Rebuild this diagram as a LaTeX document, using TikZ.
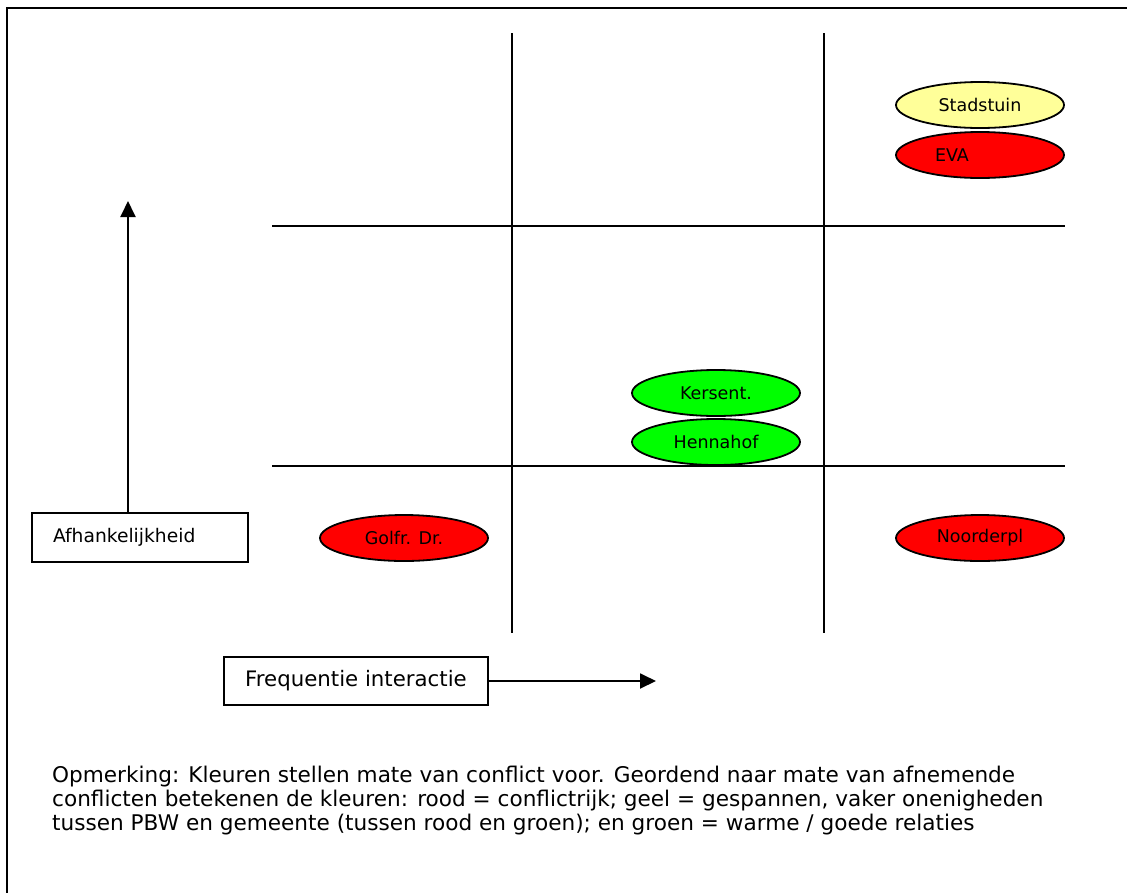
\documentclass[tikz,border=0pt]{standalone}
\usepackage{fontspec}
\setmainfont{DejaVu Sans}
\usepackage{xcolor}
\usepackage{tikz}
\usetikzlibrary{arrows.meta}
\usetikzlibrary{shapes.geometric, positioning}

\definecolor{rood}{HTML}{FF0000}
\definecolor{geel}{HTML}{FFFF99}
\definecolor{groen}{HTML}{00FF00}

\tikzset{
  partij/.style={ellipse, draw, line width=1.8pt, minimum width=168pt, minimum height=46pt, inner sep=0pt, font=\fontsize{17.5}{19}\selectfont},
  asbox/.style={draw, line width=1.8pt, inner sep=0pt, font=\fontsize{20}{22}\selectfont},
  raster/.style={line width=1.9pt},
  pijl/.style={line width=1.9pt, -{Triangle[length=16pt, width=15pt]}}
}

\begin{document}
\begin{tikzpicture}[x=1pt, y=-1pt]
        \useasboundingbox (0,0) rectangle (1127,892);
        % Kader
        \draw[line width=1.9pt] (7,900) -- (7,8) -- (1140,8);
        
        % Raster
        \draw[raster] (512,33) -- (512,633);
        \draw[raster] (824,33) -- (824,633);
        \draw[raster] (272,226) -- (1065,226);
        \draw[raster] (272,466) -- (1065,466);
        
        % Partijen
        \node[partij, fill=geel] (stadstuin) at (980,105) {Stadstuin};
        \node[partij, fill=rood] (eva) at (980,155) {\hspace*{-56pt}EVA};
        \node[partij, fill=groen] (kersent) at (716,393) {Kersent.};
        \node[partij, fill=groen] (hennahof) at (716,442) {Hennahof};
        \node[partij, fill=rood] (golfr) at (404,538) {Golfr. Dr.};
        \node[partij, fill=rood] (noorderpl) at (980,538) {Noorderpl};
        
        % Assen
        \node[asbox, font=\fontsize{18.7}{21}\selectfont, minimum width=216pt, minimum height=49pt, text width=174pt, align=left] (afh) at (140,537.5) {Afhankelijkheid};
        \node[asbox, font=\fontsize{21.3}{23}\selectfont, minimum width=264pt, minimum height=48pt] (freq) at (356,681) {Frequentie interactie};
        \coordinate (afhtop) at (128,201);
        \coordinate (freqeind) at (656,681);
        \draw[pijl] (afh.north -| afhtop) -- (afhtop);
        \draw[pijl] (freq.east) -- (freqeind);
        
        % Opmerking
        \node[anchor=north west, align=left, inner sep=0pt, font=\fontsize{21.6}{24}\selectfont] (opm) at (52,766) {Opmerking: Kleuren stellen mate van conflict voor. Geordend naar mate van afnemende\\conflicten betekenen de kleuren: rood = conflictrijk; geel = gespannen, vaker onenigheden\\tussen PBW en gemeente (tussen rood en groen); en groen = warme / goede relaties};
    \end{tikzpicture}
\end{document}
